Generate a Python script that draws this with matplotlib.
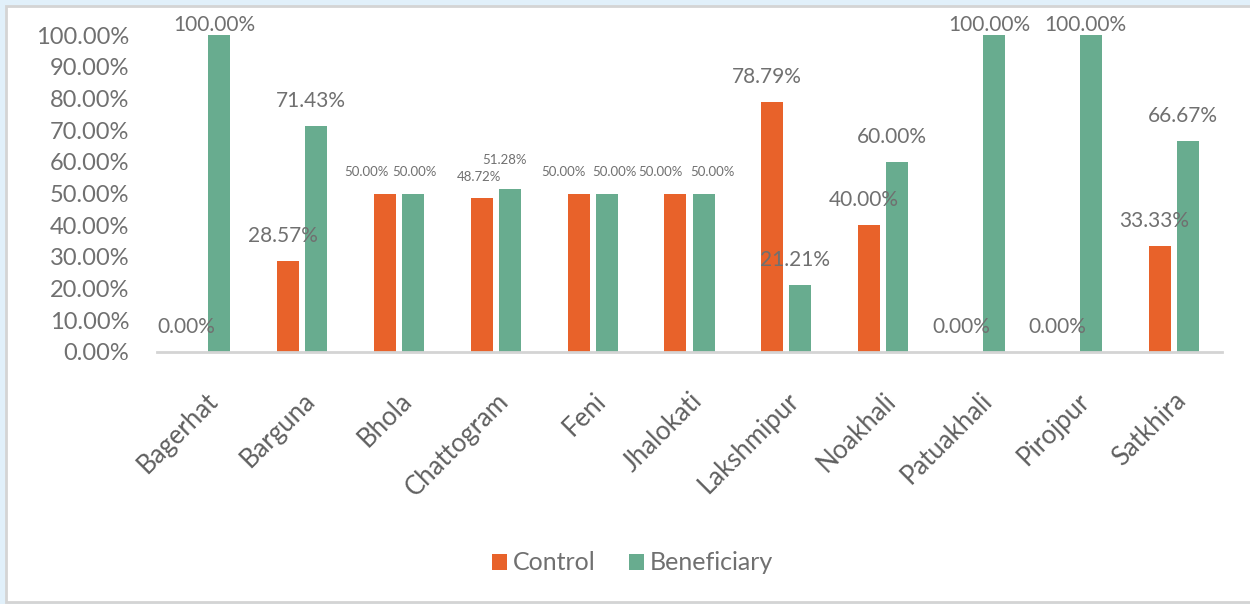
import numpy as np
import matplotlib.pyplot as plt
from matplotlib.patches import Rectangle
from matplotlib.ticker import PercentFormatter

districts = ["Bagerhat", "Barguna", "Bhola", "Chattogram", "Feni", "Jhalokati",
             "Lakshmipur", "Noakhali", "Patuakhali", "Pirojpur", "Satkhira"]
control = [0.0, 28.57, 50.00, 48.72, 50.00, 50.00, 78.79, 40.00, 0.0, 0.0, 33.33]
beneficiary = [100.00, 71.43, 50.00, 51.28, 50.00, 50.00, 21.21, 60.00, 100.00, 100.00, 66.67]
# districts whose data labels are drawn in a small font
small_labels = ["Bhola", "Chattogram", "Feni", "Jhalokati"]

ORANGE = "#E8622A"
GREEN = "#68AC8F"
TEXT = "#707070"

# label nudges (pixels) used by the original chart to keep small labels apart
nudge_c = {"Bhola": (-19, 0), "Chattogram": (-3, 0), "Feni": (-15, 0), "Jhalokati": (-15, 0)}
nudge_b = {"Bhola": (1, 0), "Chattogram": (-5, 8), "Feni": (8, 0), "Jhalokati": (9, 0)}

plt.rcParams['font.family'] = ['Lato', 'DejaVu Sans']

fig = plt.figure(figsize=(12.5, 6.04), dpi=100)
fig.patch.set_facecolor("#E1F0FA")
fig.patches.append(Rectangle((6 / 1250, 0.004), 1.0, 1 - 6 / 604 - 0.004,
                             transform=fig.transFigure, facecolor="white",
                             edgecolor="#D4D4D4", linewidth=2, zorder=-5))

ax = fig.add_axes([157 / 1250, 1 - 352 / 604, (1222 - 157) / 1250, (352 - 35) / 604])
ax.set_facecolor("none")

x = np.arange(len(districts))
w = 0.227
off = 0.145
bars_c = ax.bar(x - off, control, w, color=ORANGE, label="Control")
bars_b = ax.bar(x + off, beneficiary, w, color=GREEN, label="Beneficiary")

for bars, vals, nudge in ((bars_c, control, nudge_c), (bars_b, beneficiary, nudge_b)):
    for i, (b, v) in enumerate(zip(bars, vals)):
        name = districts[i]
        small = name in small_labels
        dx, dy = nudge.get(name, (-5, 0))
        base = 0 if v >= 95 else 15
        ax.annotate(f"{v:.2f}%", (b.get_x() + b.get_width() / 2, v),
                    xytext=(dx * 0.72, (base + dy) * 0.72), textcoords="offset points",
                    ha="center", va="bottom",
                    fontsize=9.5 if small else 15, color=TEXT, clip_on=False)

ax.set_xlim(-0.5, len(districts) - 0.5)
ax.set_ylim(0, 100)
ax.set_yticks(np.arange(0, 101, 10))
ax.yaxis.set_major_formatter(PercentFormatter(decimals=2))
ax.set_xticks(x)
ax.set_xticklabels(districts, rotation=45, ha="right", rotation_mode="anchor")
ax.tick_params(axis="y", length=0, labelsize=17, labelcolor=TEXT, pad=20)
ax.tick_params(axis="x", length=0, labelsize=18.5, labelcolor="#606060", pad=26)

for s in ("top", "right", "left"):
    ax.spines[s].set_visible(False)
ax.spines["bottom"].set_color("#D4D4D4")
ax.spines["bottom"].set_linewidth(2)

fig.legend(loc="center", bbox_to_anchor=(0.506, 0.068), ncol=2, frameon=False,
           fontsize=18, labelcolor=TEXT, handlelength=0.6, handleheight=0.6,
           handletextpad=0.25, columnspacing=1.3)

fig.savefig("out.png", dpi=100)
